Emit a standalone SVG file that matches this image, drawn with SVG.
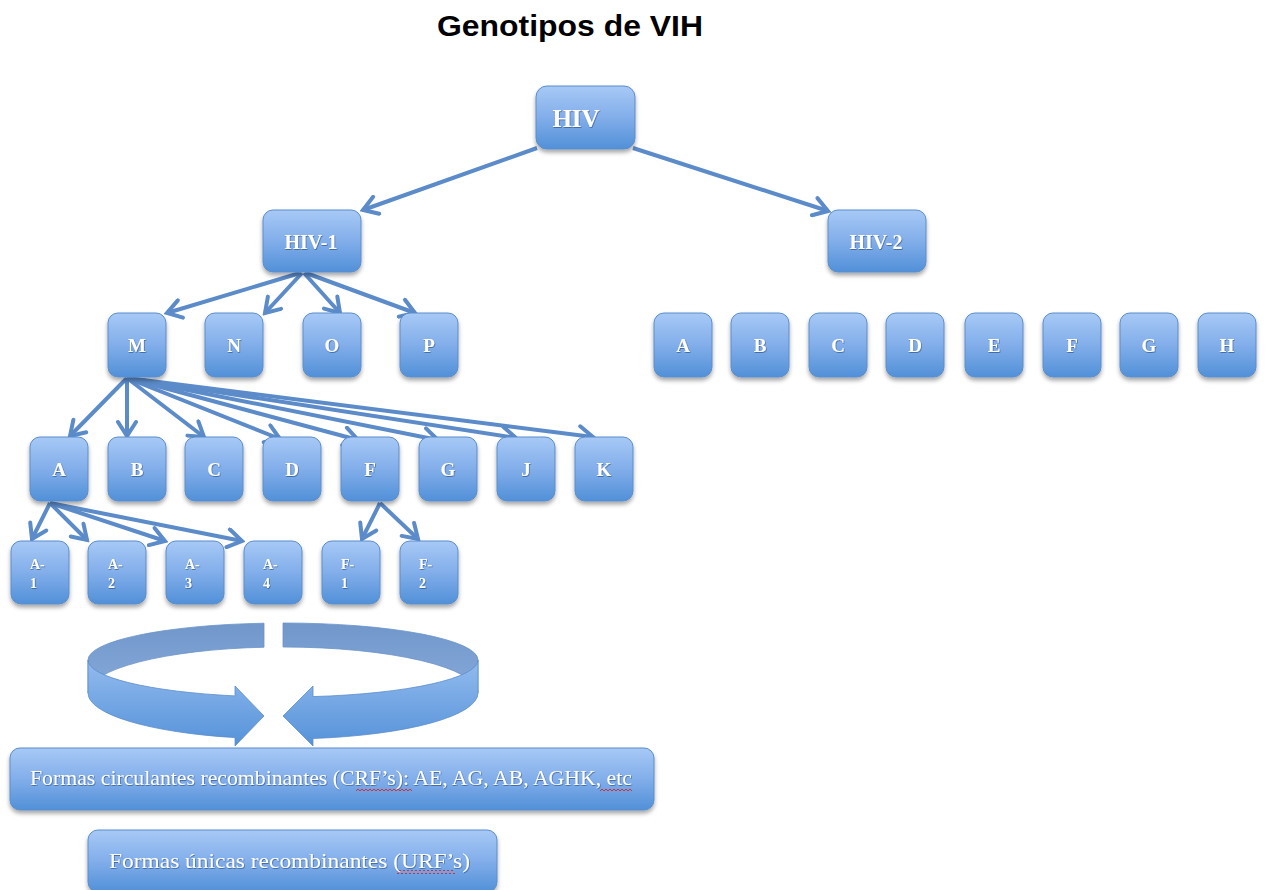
<svg xmlns="http://www.w3.org/2000/svg" width="1266" height="890" viewBox="0 0 1266 890">
<style>
.box{fill:url(#gb);stroke:#5a8dcc;stroke-width:1;filter:url(#sh)}
.t{font-family:"Liberation Serif","DejaVu Serif",serif;font-weight:bold;fill:#ffffff;text-anchor:middle;filter:url(#ts)}
.tl{font-family:"Liberation Serif","DejaVu Serif",serif;fill:#ffffff;filter:url(#ts)}
.b{font-weight:bold}
.c{fill:none;stroke:#5b8bc9;stroke-width:4;marker-end:url(#ah)}
</style>
<defs>
<linearGradient id="gb" x1="0" y1="0" x2="0" y2="1">
<stop offset="0" stop-color="#a7c9f6"/>
<stop offset="0.5" stop-color="#82aeea"/>
<stop offset="1" stop-color="#5190d8"/>
</linearGradient>
<linearGradient id="gback" x1="0" y1="0" x2="0" y2="1">
<stop offset="0" stop-color="#7197cb"/>
<stop offset="1" stop-color="#86a9d8"/>
</linearGradient>
<linearGradient id="gfront" x1="0" y1="0" x2="0" y2="1">
<stop offset="0" stop-color="#93bbee"/>
<stop offset="1" stop-color="#5592d9"/>
</linearGradient>
<filter id="sh" x="-20%" y="-20%" width="140%" height="150%">
<feDropShadow dx="0" dy="3" stdDeviation="2" flood-color="#000" flood-opacity="0.35"/>
</filter>
<filter id="ts" x="-10%" y="-30%" width="120%" height="160%">
<feDropShadow dx="0.6" dy="0.8" stdDeviation="0.6" flood-color="#1f3f70" flood-opacity="0.7"/>
</filter>
<marker id="ah" viewBox="0 0 22 22" refX="19" refY="11" markerWidth="22" markerHeight="22" markerUnits="userSpaceOnUse" orient="auto">
<path d="M5,2 L19,11 L5,20" fill="none" stroke="#5b8bc9" stroke-width="4" stroke-linecap="round"/>
</marker>
<pattern id="sq" width="4" height="4" patternUnits="userSpaceOnUse">
<path d="M0,3 L2,1 L4,3" fill="none" stroke="#e02020" stroke-width="0.9"/>
</pattern>
</defs>
<rect width="1266" height="890" fill="#ffffff"/>
<text x="570" y="36" font-family="'Liberation Sans',Arial,sans-serif" font-weight="bold" font-size="29" text-anchor="middle" textLength="266" lengthAdjust="spacingAndGlyphs" fill="#000">Genotipos de VIH</text>

<g id="connectors">
<line class="c" x1="537" y1="148" x2="363" y2="210"/>
<line class="c" x1="633" y1="148" x2="828" y2="211"/>
<line class="c" x1="300" y1="273" x2="167" y2="313"/>
<line class="c" x1="302" y1="273" x2="265" y2="313"/>
<line class="c" x1="304" y1="273" x2="340" y2="313"/>
<line class="c" x1="306" y1="273" x2="415" y2="313"/>
<line class="c" x1="127" y1="378" x2="70" y2="436"/>
<line class="c" x1="127" y1="378" x2="127" y2="436"/>
<line class="c" x1="127" y1="378" x2="204" y2="437"/>
<line class="c" x1="127" y1="378" x2="280" y2="439"/>
<line class="c" x1="127" y1="378" x2="358" y2="440"/>
<line class="c" x1="127" y1="378" x2="438" y2="440"/>
<line class="c" x1="127" y1="378" x2="516" y2="438"/>
<line class="c" x1="127" y1="378" x2="593" y2="437"/>
<line class="c" x1="50" y1="503" x2="32" y2="539"/>
<line class="c" x1="50" y1="503" x2="87" y2="540"/>
<line class="c" x1="50" y1="503" x2="165" y2="541"/>
<line class="c" x1="50" y1="503" x2="242" y2="541"/>
<line class="c" x1="380" y1="503" x2="362" y2="539"/>
<line class="c" x1="380" y1="503" x2="418" y2="539"/>
</g>

<g id="cycle">
<path d="M264,623.2 A195,37 0 0 0 88,660 L88,693 A195,46 0 0 1 264,647.2 Z" fill="url(#gback)" stroke="#6a93c9" stroke-width="0.8"/>
<path d="M283,623 A195,37 0 0 1 478,660 L478,693 A195,46 0 0 0 283,647 Z" fill="url(#gback)" stroke="#6a93c9" stroke-width="0.8"/>
<path d="M88,660 A195,37 0 0 0 235,695.9 L235,686 L264,716 L235,746 L235,737.6 A195,46 0 0 1 88,693 Z" fill="url(#gfront)" stroke="#5a8dcc" stroke-width="0.8"/>
<path d="M478,660 A195,37 0 0 1 313,696.6 L313,686 L283,716 L313,746 L313,738.5 A195,46 0 0 0 478,693 Z" fill="url(#gfront)" stroke="#5a8dcc" stroke-width="0.8"/>
</g>

<g id="n-hiv"><rect class="box" x="536" y="86" width="99" height="63" rx="11"/><text class="t" x="576" y="127" font-size="25">HIV</text></g>
<g id="n-hiv1"><rect class="box" x="263" y="210" width="98" height="62" rx="10"/><text class="t" x="311" y="249" font-size="20">HIV-1</text></g>
<g id="n-hiv2"><rect class="box" x="828" y="210" width="98" height="62" rx="10"/><text class="t" x="876" y="249" font-size="20">HIV-2</text></g>

<g id="n-M"><rect class="box" x="108" y="313" width="58" height="64" rx="10"/><text class="t" x="137" y="352" font-size="19">M</text></g>
<g id="n-N"><rect class="box" x="205" y="313" width="58" height="64" rx="10"/><text class="t" x="234" y="352" font-size="19">N</text></g>
<g id="n-O"><rect class="box" x="303" y="313" width="58" height="64" rx="10"/><text class="t" x="332" y="352" font-size="19">O</text></g>
<g id="n-P"><rect class="box" x="400" y="313" width="58" height="64" rx="10"/><text class="t" x="429" y="352" font-size="19">P</text></g>

<g id="n2-A"><rect class="box" x="654" y="313" width="58" height="64" rx="10"/><text class="t" x="683" y="352" font-size="19">A</text></g>
<g id="n2-B"><rect class="box" x="731" y="313" width="58" height="64" rx="10"/><text class="t" x="760" y="352" font-size="19">B</text></g>
<g id="n2-C"><rect class="box" x="809" y="313" width="58" height="64" rx="10"/><text class="t" x="838" y="352" font-size="19">C</text></g>
<g id="n2-D"><rect class="box" x="886" y="313" width="58" height="64" rx="10"/><text class="t" x="915" y="352" font-size="19">D</text></g>
<g id="n2-E"><rect class="box" x="965" y="313" width="58" height="64" rx="10"/><text class="t" x="994" y="352" font-size="19">E</text></g>
<g id="n2-F"><rect class="box" x="1043" y="313" width="58" height="64" rx="10"/><text class="t" x="1072" y="352" font-size="19">F</text></g>
<g id="n2-G"><rect class="box" x="1120" y="313" width="58" height="64" rx="10"/><text class="t" x="1149" y="352" font-size="19">G</text></g>
<g id="n2-H"><rect class="box" x="1198" y="313" width="58" height="64" rx="10"/><text class="t" x="1227" y="352" font-size="19">H</text></g>

<g id="n-A"><rect class="box" x="30" y="437" width="58" height="64" rx="10"/><text class="t" x="59" y="476" font-size="19">A</text></g>
<g id="n-B"><rect class="box" x="108" y="437" width="58" height="64" rx="10"/><text class="t" x="137" y="476" font-size="19">B</text></g>
<g id="n-C"><rect class="box" x="185" y="437" width="58" height="64" rx="10"/><text class="t" x="214" y="476" font-size="19">C</text></g>
<g id="n-D"><rect class="box" x="263" y="437" width="58" height="64" rx="10"/><text class="t" x="292" y="476" font-size="19">D</text></g>
<g id="n-F"><rect class="box" x="341" y="437" width="58" height="64" rx="10"/><text class="t" x="370" y="476" font-size="19">F</text></g>
<g id="n-G"><rect class="box" x="419" y="437" width="58" height="64" rx="10"/><text class="t" x="448" y="476" font-size="19">G</text></g>
<g id="n-J"><rect class="box" x="497" y="437" width="58" height="64" rx="10"/><text class="t" x="526" y="476" font-size="19">J</text></g>
<g id="n-K"><rect class="box" x="575" y="437" width="58" height="64" rx="10"/><text class="t" x="604" y="476" font-size="19">K</text></g>

<g id="n-A1"><rect class="box" x="11" y="541" width="58" height="63" rx="10"/><text class="tl b" x="30" y="569" font-size="14">A-</text><text class="tl b" x="30" y="588" font-size="14">1</text></g>
<g id="n-A2"><rect class="box" x="88" y="541" width="58" height="63" rx="10"/><text class="tl b" x="108" y="569" font-size="14">A-</text><text class="tl b" x="108" y="588" font-size="14">2</text></g>
<g id="n-A3"><rect class="box" x="166" y="541" width="58" height="63" rx="10"/><text class="tl b" x="185" y="569" font-size="14">A-</text><text class="tl b" x="185" y="588" font-size="14">3</text></g>
<g id="n-A4"><rect class="box" x="244" y="541" width="58" height="63" rx="10"/><text class="tl b" x="263" y="569" font-size="14">A-</text><text class="tl b" x="263" y="588" font-size="14">4</text></g>
<g id="n-F1"><rect class="box" x="322" y="541" width="58" height="63" rx="10"/><text class="tl b" x="341" y="569" font-size="14">F-</text><text class="tl b" x="341" y="588" font-size="14">1</text></g>
<g id="n-F2"><rect class="box" x="400" y="541" width="58" height="63" rx="10"/><text class="tl b" x="419" y="569" font-size="14">F-</text><text class="tl b" x="419" y="588" font-size="14">2</text></g>

<g id="n-crf"><rect class="box" x="10" y="748" width="644" height="62" rx="10"/><text class="tl" x="30" y="785" font-size="21" textLength="602" lengthAdjust="spacingAndGlyphs">Formas circulantes recombinantes (CRF’s): AE, AG, AB, AGHK, etc</text><rect x="356" y="787" width="56" height="4" fill="url(#sq)"/><rect x="600" y="787" width="32" height="4" fill="url(#sq)"/></g>
<g id="n-urf"><rect class="box" x="88" y="830" width="409" height="62" rx="10"/><text class="tl" x="109" y="868" font-size="21" textLength="361" lengthAdjust="spacingAndGlyphs">Formas únicas recombinantes (URF’s)</text><rect x="397" y="870" width="58" height="4" fill="url(#sq)"/></g>
</svg>
